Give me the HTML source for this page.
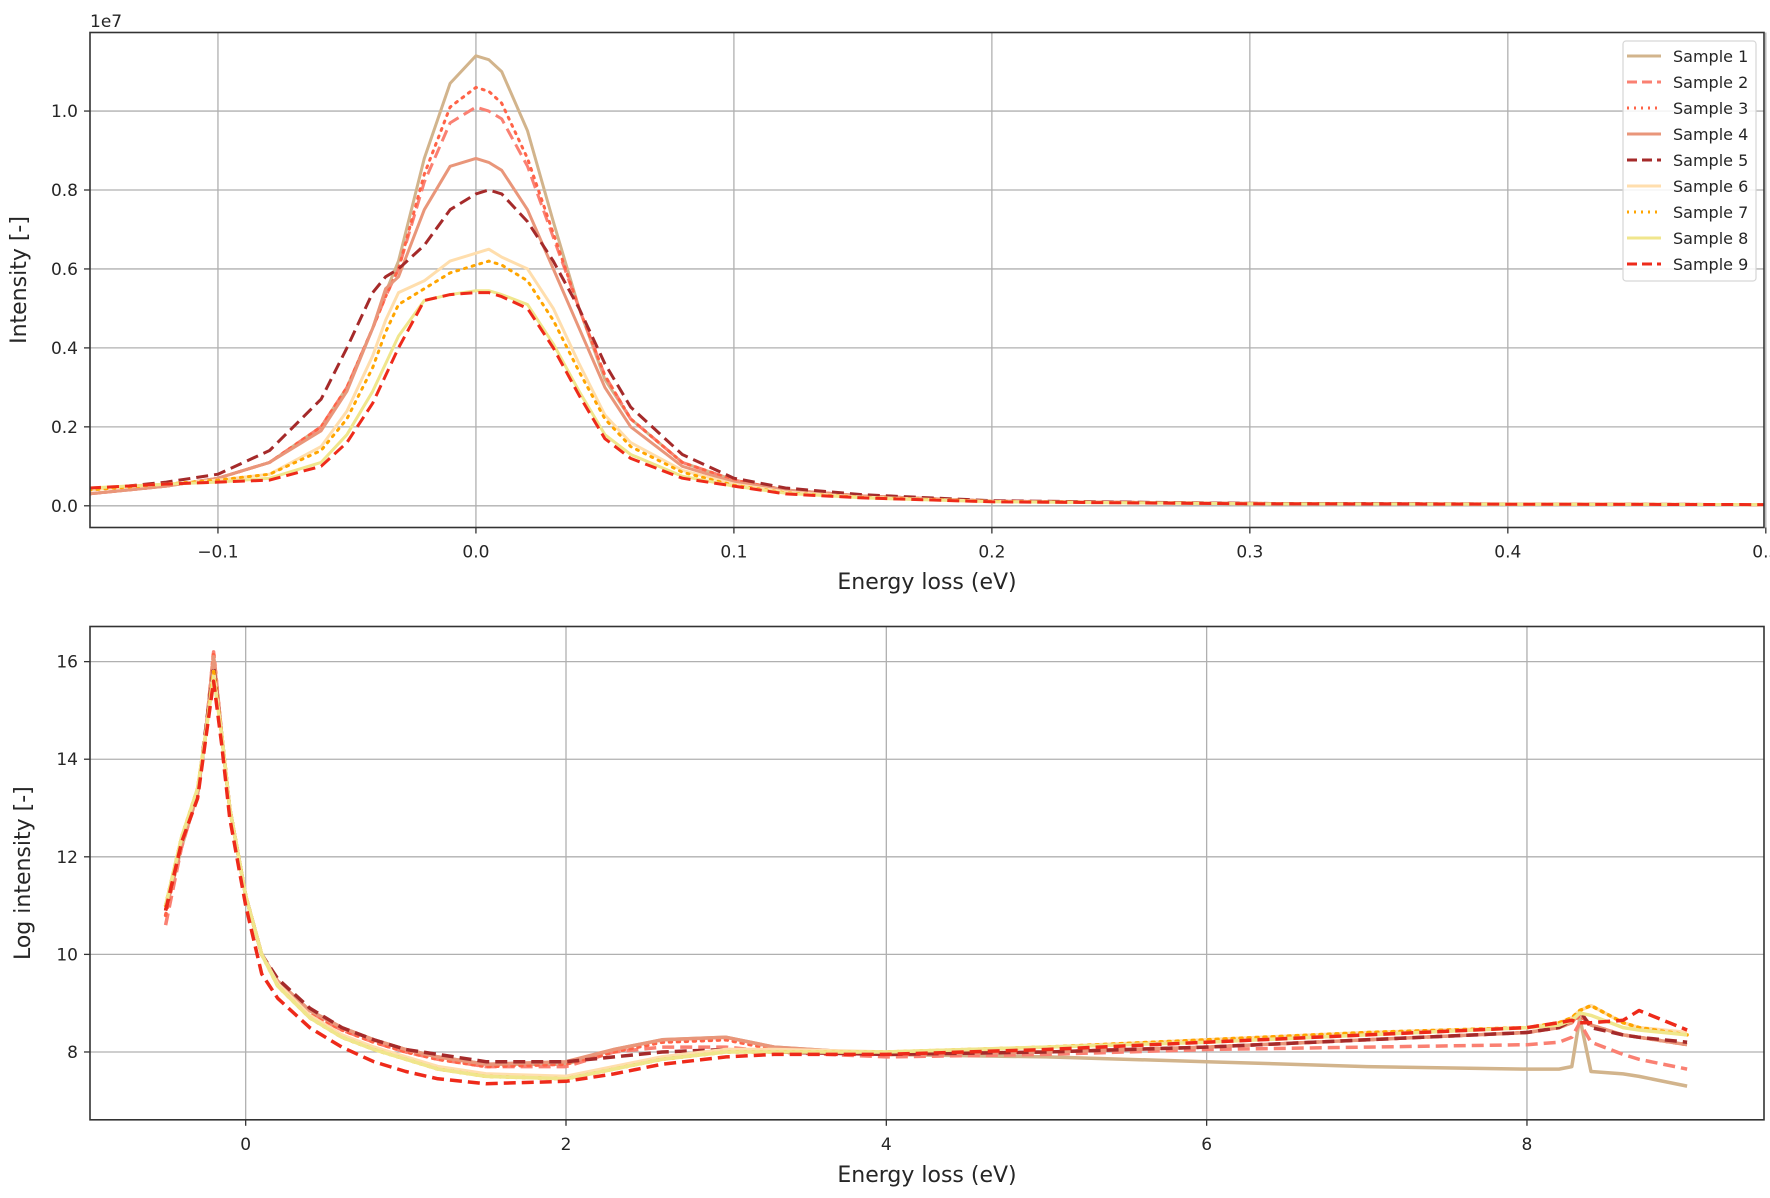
<!DOCTYPE html>
<html><head><meta charset="utf-8">
<style>
html,body{margin:0;padding:0;background:#fff;overflow:hidden;}
svg text{font-family:"DejaVu Sans","Liberation Sans",sans-serif;fill:#262626;}
</style></head>
<body>
<svg id="fig" width="1770" height="1198" viewBox="0 0 1770 1198" xmlns="http://www.w3.org/2000/svg" style="display:block">
<rect width="1770" height="1198" fill="#fff"/>
<g id="top"></g>
<g id="bot"></g>
</svg>
<script>
const names = ["Sample 1","Sample 2","Sample 3","Sample 4","Sample 5","Sample 6","Sample 7","Sample 8","Sample 9"];
const colors = ["#d2b48c","#fa8072","#ff6347","#e9967a","#a52a2a","#ffdead","#ffa500","#f0e68c","#ee2a1a"];
const dashes = ["","12,6","2,6","","12,6","","2,6","","12,6"];

// Top panel data (intensity in units of 1e7)
const topX = [-0.15,-0.12,-0.1,-0.08,-0.06,-0.05,-0.04,-0.035,-0.03,-0.02,-0.01,0,0.005,0.01,0.02,0.03,0.04,0.05,0.06,0.08,0.1,0.12,0.15,0.2,0.3,0.5];
const top1 = [0.03,0.05,0.07,0.11,0.2,0.3,0.45,0.54,0.62,0.88,1.07,1.14,1.13,1.1,0.95,0.72,0.5,0.32,0.22,0.11,0.065,0.04,0.025,0.012,0.006,0.003];
const top2 = [0.03,0.05,0.07,0.11,0.2,0.3,0.45,0.53,0.6,0.82,0.97,1.01,1.0,0.98,0.86,0.68,0.5,0.33,0.22,0.11,0.065,0.04,0.025,0.012,0.006,0.003];
const top3 = [0.03,0.05,0.07,0.11,0.2,0.3,0.45,0.53,0.6,0.84,1.01,1.06,1.05,1.02,0.88,0.69,0.5,0.33,0.22,0.11,0.065,0.04,0.025,0.012,0.006,0.003];
const top4 = [0.03,0.05,0.07,0.11,0.19,0.29,0.45,0.55,0.58,0.75,0.86,0.88,0.87,0.85,0.75,0.6,0.45,0.3,0.2,0.1,0.06,0.04,0.025,0.012,0.006,0.003];
const top5 = [0.04,0.06,0.08,0.14,0.27,0.4,0.54,0.58,0.6,0.66,0.75,0.79,0.8,0.79,0.72,0.62,0.5,0.36,0.25,0.13,0.07,0.045,0.028,0.013,0.006,0.003];
const top6 = [0.04,0.055,0.065,0.08,0.15,0.24,0.38,0.47,0.54,0.57,0.62,0.64,0.65,0.63,0.6,0.5,0.36,0.23,0.16,0.09,0.055,0.035,0.022,0.011,0.005,0.003];
const top7 = [0.04,0.055,0.065,0.08,0.14,0.22,0.35,0.44,0.51,0.55,0.59,0.61,0.62,0.61,0.57,0.47,0.34,0.22,0.15,0.085,0.052,0.033,0.021,0.011,0.005,0.003];
const top8 = [0.045,0.055,0.06,0.07,0.11,0.18,0.29,0.36,0.43,0.52,0.535,0.545,0.545,0.535,0.51,0.41,0.29,0.18,0.13,0.075,0.05,0.032,0.02,0.01,0.005,0.003];
const top9 = [0.045,0.055,0.06,0.065,0.1,0.16,0.26,0.33,0.4,0.52,0.535,0.54,0.54,0.53,0.5,0.4,0.28,0.17,0.12,0.07,0.05,0.03,0.02,0.01,0.005,0.003];
const topSeries = [top1,top2,top3,top4,top5,top6,top7,top8,top9];
const topXTicks = [-0.1,0.0,0.1,0.2,0.3,0.4,0.5];
const topXTickLabels = ["\u22120.1","0.0","0.1","0.2","0.3","0.4","0.5"];
const topYTicks = [0.0,0.2,0.4,0.6,0.8,1.0];
const topYTickLabels = ["0.0","0.2","0.4","0.6","0.8","1.0"];

// Bottom panel data (log intensity)
const botX = [-0.5,-0.4,-0.3,-0.25,-0.2,-0.15,-0.1,0,0.1,0.2,0.4,0.6,0.8,1.0,1.2,1.5,2.0,2.3,2.6,3.0,3.3,4,5,6,7,8,8.2,8.28,8.33,8.4,8.6,8.7,9];
const bot1 = [10.9,12.2,13.3,14.5,16.1,14.5,13.0,11.2,10.0,9.45,8.85,8.5,8.25,8.05,7.9,7.75,7.75,8.05,8.25,8.3,8.1,7.95,7.9,7.8,7.7,7.65,7.65,7.7,8.7,7.6,7.55,7.5,7.3];
const bot2 = [10.6,12.2,13.3,14.5,16.2,14.5,13.0,11.2,10.0,9.4,8.8,8.45,8.2,8.0,7.85,7.7,7.7,8.0,8.1,8.1,8.0,7.9,7.95,8.05,8.1,8.15,8.2,8.3,8.6,8.2,7.95,7.85,7.65];
const bot3 = [10.8,12.3,13.3,14.5,16.2,14.5,13.0,11.2,10.0,9.4,8.8,8.45,8.2,8.0,7.85,7.7,7.75,8.0,8.2,8.25,8.05,7.95,8.0,8.1,8.25,8.4,8.5,8.6,8.75,8.55,8.35,8.3,8.15];
const bot4 = [10.9,12.3,13.3,14.5,16.1,14.5,13.0,11.2,10.0,9.45,8.85,8.5,8.25,8.05,7.9,7.75,7.8,8.05,8.25,8.3,8.1,7.95,8.0,8.1,8.25,8.4,8.5,8.6,8.8,8.55,8.35,8.3,8.15];
const bot5 = [10.9,12.3,13.3,14.6,15.9,14.5,13.0,11.2,10.0,9.5,8.9,8.5,8.25,8.05,7.95,7.8,7.8,7.9,8.0,8.05,8.0,7.95,8.0,8.1,8.25,8.4,8.5,8.65,8.85,8.5,8.35,8.3,8.2];
const bot6 = [11.0,12.4,13.4,14.5,15.8,14.5,13.0,11.2,10.0,9.4,8.75,8.35,8.1,7.9,7.7,7.55,7.5,7.7,7.9,8.05,8.05,8.0,8.1,8.25,8.4,8.5,8.6,8.7,8.85,8.95,8.6,8.5,8.4];
const bot7 = [11.0,12.4,13.4,14.5,15.8,14.5,13.0,11.2,10.0,9.35,8.7,8.3,8.05,7.85,7.65,7.5,7.45,7.65,7.85,8.0,8.0,8.0,8.1,8.25,8.4,8.5,8.6,8.7,8.85,8.95,8.6,8.5,8.35];
const bot8 = [11.0,12.4,13.4,14.5,15.7,14.5,13.0,11.2,10.0,9.35,8.7,8.3,8.05,7.85,7.65,7.5,7.45,7.65,7.85,8.0,8.0,8.0,8.1,8.2,8.35,8.5,8.55,8.65,8.8,8.75,8.5,8.45,8.35];
const bot9 = [10.9,12.3,13.2,14.4,15.6,14.3,12.8,11.0,9.6,9.1,8.5,8.1,7.8,7.6,7.45,7.35,7.4,7.55,7.75,7.9,7.95,7.95,8.05,8.2,8.35,8.5,8.6,8.65,8.6,8.6,8.65,8.85,8.45];
const botSeries = [bot1,bot2,bot3,bot4,bot5,bot6,bot7,bot8,bot9];
const botXTicks = [0,2,4,6,8];
const botXTickLabels = ["0","2","4","6","8"];
const botYTicks = [8,10,12,14,16];
const botYTickLabels = ["8","10","12","14","16"];

const NS = "http://www.w3.org/2000/svg";
function mk(tag, attrs, parent){
  const e = document.createElementNS(NS, tag);
  for (const k in attrs) e.setAttribute(k, attrs[k]);
  parent.appendChild(e); return e;
}

function panel(g, cfg){
  const L=90, R=1764, T=cfg.top, B=cfg.bottom;
  const sx = v => L + (v - cfg.x0) / (cfg.x1 - cfg.x0) * (R - L);
  const sy = v => B - (v - cfg.y0) / (cfg.y1 - cfg.y0) * (B - T);
  const clipId = cfg.id + "-clip";
  const cp = mk("clipPath", {id: clipId}, g);
  mk("rect", {x:L, y:T, width:R-L, height:B-T}, cp);
  cfg.xt.forEach((v,i) => {
    const gl = mk("line", {x1:sx(v), x2:sx(v), y1:T, y2:B, stroke:"#b0b0b0", "stroke-width":1.3}, g);
    
    
    const tk = mk("line", {x1:sx(v), x2:sx(v), y1:B, y2:B+6, stroke:"#333", "stroke-width":1.3}, g);
    
    
    const t = mk("text", {x:sx(v), y:B+30, "text-anchor":"middle", "font-size":17}, g);
    t.textContent = cfg.xtl[i];
    
    
  });
  cfg.yt.forEach((v,i) => {
    const gl = mk("line", {x1:L, x2:R, y1:sy(v), y2:sy(v), stroke:"#b0b0b0", "stroke-width":1.3}, g);
    
    
    const tk = mk("line", {x1:L-6, x2:L, y1:sy(v), y2:sy(v), stroke:"#333", "stroke-width":1.3}, g);
    
    
    const t = mk("text", {x:L-12, y:sy(v)+6, "text-anchor":"end", "font-size":17}, g);
    t.textContent = cfg.ytl[i];
    
    
  });
  const sg = mk("g", {"clip-path":"url(#"+clipId+")"}, g);
  
  
  cfg.series.forEach((ys, i) => {
    const d = ys.map((y,j) => (j?"L":"M") + sx(cfg.xs[j]).toFixed(1) + "," + sy(y).toFixed(1)).join(" ");
    const p = mk("path", {d:d, fill:"none", stroke:colors[i], "stroke-width":cfg.sw, "stroke-linejoin":"round", "stroke-linecap":dashes[i]==="2,6"?"round":"butt"}, sg);
    if (dashes[i]) p.setAttribute("stroke-dasharray", dashes[i]);
    
    
  });
  const fr = mk("rect", {x:L, y:T, width:R-L, height:B-T, fill:"none", stroke:"#333", "stroke-width":1.6}, g);
  
  
  const xl = mk("text", {x:(L+R)/2, y:cfg.xlabY, "text-anchor":"middle", "font-size":22}, g);
  xl.textContent = "Energy loss (eV)";
  
  
  const yl = mk("text", {x:0, y:0, "text-anchor":"middle", "font-size":22, transform:"translate("+cfg.ylabX+","+((T+B)/2)+") rotate(-90)"}, g);
  yl.textContent = cfg.ylab;
  
  
  return {sx, sy, L, R, T, B};
}

const topG = document.getElementById("top");
panel(topG, {id:"top", top:32.5, bottom:527.5, x0:-0.1496, x1:0.4993, y0:-0.055, y1:1.199,
  xs:topX, series:topSeries, xt:topXTicks, xtl:topXTickLabels, yt:topYTicks, ytl:topYTickLabels,
  sw:3, xlabY:589, ylabX:26, ylab:"Intensity [-]"});
const off = mk("text", {x:90, y:27, "font-size":17}, topG);
off.textContent = "1e7";



const lg = mk("g", {}, topG);


mk("rect", {x:1623, y:41, width:133, height:240, rx:3, fill:"#fff", "fill-opacity":0.85, stroke:"#d6d6d6", "stroke-width":1.2}, lg);
names.forEach((n,i) => {
  const y = 56 + i*26;
  const ln = mk("line", {x1:1627, x2:1661, y1:y, y2:y, stroke:colors[i], "stroke-width":3}, lg);
  if (dashes[i]) ln.setAttribute("stroke-dasharray", dashes[i]==="2,6"?"2,5":"10,5");
  
  
  const t = mk("text", {x:1673, y:y+6, "font-size":16}, lg);
  t.textContent = n;
  
  
});

panel(document.getElementById("bot"), {id:"bot", top:626.5, bottom:1119.8, x0:-0.972, x1:9.48, y0:6.61, y1:16.72,
  xs:botX, series:botSeries, xt:botXTicks, xtl:botXTickLabels, yt:botYTicks, ytl:botYTickLabels,
  sw:3.5, xlabY:1182, ylabX:30, ylab:"Log intensity [-]"});
</script>
</body></html>
